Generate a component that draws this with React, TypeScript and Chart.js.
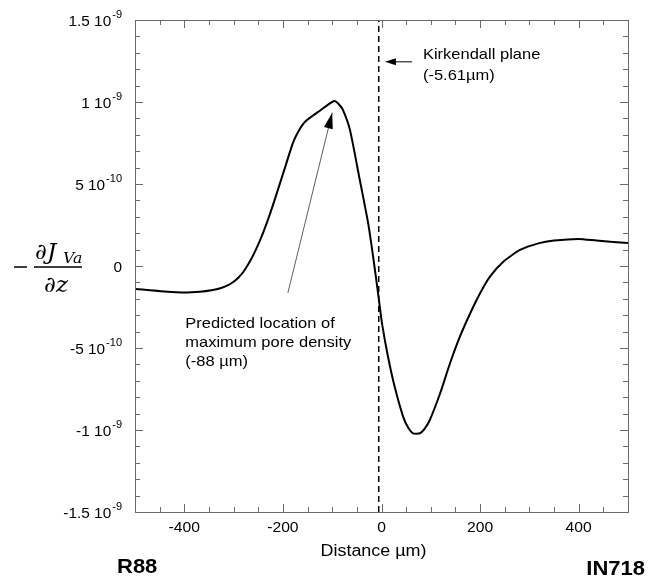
import React, { useEffect, useRef } from "react";
import { Chart, registerables } from "chart.js";

Chart.register(...registerables);

// Distance (µm)
const distance = [
  -500, -470, -440, -400, -368, -345, -327, -310, -300, -290, -280, -270, -260, -246, -233, -219, -206, -193, -180,
  -169, -155, -125, -96, -86, -78, -64, -45, -27, -17, -7, 1, 13, 27, 44, 54, 64, 78, 88, 98, 119, 139, 159, 180,
  200, 220, 247, 281, 318, 350, 400, 436, 470, 500,
];
// -dJ/dz in units of 1e-9
const gradient = [
  -0.14, -0.148, -0.156, -0.162, -0.157, -0.148, -0.136, -0.115, -0.096, -0.07, -0.035, 0.012, 0.067, 0.159, 0.26,
  0.382, 0.504, 0.626, 0.748, 0.819, 0.88, 0.947, 1.006, 0.985, 0.95, 0.83, 0.54, 0.26, 0.057, -0.165, -0.35, -0.55,
  -0.74, -0.92, -0.985, -1.02, -1.02, -0.99, -0.939, -0.776, -0.593, -0.431, -0.288, -0.166, -0.065, 0.026, 0.098,
  0.138, 0.155, 0.165, 0.155, 0.147, 0.14,
];
const kirkendallX = -5.61;
const yTickValues = [-1.5, -1, -0.5, 0, 0.5, 1, 1.5];
const yTickMain = ["-1.5 10", "-1 10", "-5 10", "0", "5 10", "1 10", "1.5 10"];
const yTickExp = ["-9", "-9", "-10", "", "-10", "-9", "-9"];
const xTickValues = [-400, -200, 0, 200, 400];
const xTitle = "Distance \u00b5m)";
const leftLabel = "R88";
const rightLabel = "IN718";
const kirkLines = ["Kirkendall plane", "(-5.61\u00b5m)"];
const poreLines = ["Predicted location of", "maximum pore density", "(-88 \u00b5m)"];

const SANS = "'Liberation Sans', Arial, sans-serif";

function txt(ctx: CanvasRenderingContext2D, s: string, x: number, y: number, font: string, align: CanvasTextAlign, sx = 1.1) {
  ctx.save();
  ctx.font = font;
  ctx.textAlign = align;
  ctx.translate(x, y);
  ctx.scale(sx, 1);
  ctx.fillText(s, 0, 0);
  ctx.restore();
}

function arrowHead(ctx: CanvasRenderingContext2D, x0: number, y0: number, x1: number, y1: number, len: number, w: number) {
  const ang = Math.atan2(y1 - y0, x1 - x0);
  ctx.beginPath();
  ctx.moveTo(x1, y1);
  ctx.lineTo(x1 - len * Math.cos(ang) + w * Math.sin(ang), y1 - len * Math.sin(ang) - w * Math.cos(ang));
  ctx.lineTo(x1 - len * Math.cos(ang) - w * Math.sin(ang), y1 - len * Math.sin(ang) + w * Math.cos(ang));
  ctx.closePath();
  ctx.fill();
}

const decor = {
  id: "decor",
  afterDraw(chart: any) {
    const { ctx, chartArea: a, scales } = chart;
    const x = scales.x;
    const y = scales.y;
    ctx.save();
    // frame
    ctx.strokeStyle = "#6a6a6a";
    ctx.lineWidth = 1;
    ctx.strokeRect(Math.round(a.left) + 0.5, Math.round(a.top) + 0.5, Math.round(a.right - a.left), Math.round(a.bottom - a.top));
    // x ticks (top & bottom, inward)
    ctx.beginPath();
    for (let v = -450; v <= 450; v += 50) {
      const px = Math.round(x.getPixelForValue(v)) + 0.5;
      const len = v % 200 === 0 ? 8 : 5;
      ctx.moveTo(px, a.bottom);
      ctx.lineTo(px, a.bottom - len);
      ctx.moveTo(px, a.top);
      ctx.lineTo(px, a.top + len);
    }
    // y ticks (left & right, inward)
    for (let i = -14; i <= 14; i++) {
      const py = Math.round(y.getPixelForValue(i / 10)) + 0.5;
      const len = i % 5 === 0 ? 8 : 5;
      ctx.moveTo(a.left, py);
      ctx.lineTo(a.left + len, py);
      ctx.moveTo(a.right, py);
      ctx.lineTo(a.right - len, py);
    }
    ctx.stroke();

    ctx.fillStyle = "#000";
    // y tick labels with superscripts
    ctx.textBaseline = "middle";
    yTickValues.forEach((v, i) => {
      const py = y.getPixelForValue(v);
      const right = a.left - 13;
      ctx.font = `10px ${SANS}`;
      const ew = ctx.measureText(yTickExp[i]).width * 1.1;
      txt(ctx, yTickExp[i], right, py - 5, `10px ${SANS}`, "right");
      txt(ctx, yTickMain[i], right - ew - (ew > 0 ? 1 : 0), py + 2, `14px ${SANS}`, "right");
    });
    // x tick labels
    xTickValues.forEach((v) => {
      txt(ctx, String(v), x.getPixelForValue(v), a.bottom + 16, `14px ${SANS}`, "center", 1.12);
    });
    txt(ctx, xTitle, x.getPixelForValue(0) - 8, a.bottom + 40, `16px ${SANS}`, "center", 1.12);
    txt(ctx, leftLabel, a.left - 18, a.bottom + 55, `bold 20px ${SANS}`, "left", 1.1);
    txt(ctx, rightLabel, a.right + 17, a.bottom + 57, `bold 20px ${SANS}`, "right", 1.1);

    // y-axis label: - dJ_Va / dz
    const cy = y.getPixelForValue(0);
    ctx.strokeStyle = "#000";
    ctx.lineWidth = 1.5;
    ctx.beginPath();
    ctx.moveTo(14, cy + 1);
    ctx.lineTo(27, cy + 1);
    ctx.moveTo(34, cy + 1);
    ctx.lineTo(82, cy + 1);
    ctx.stroke();
    ctx.textBaseline = "alphabetic";
    txt(ctx, "\u2202J", 35, cy - 7, `italic 22px 'DejaVu Serif', serif`, "left", 1.05);
    txt(ctx, "Va", 63, cy - 3, `italic 15px 'DejaVu Serif', serif`, "left", 1.05);
    txt(ctx, "\u2202z", 44, cy + 26, `italic 22px 'DejaVu Serif', serif`, "left", 1.05);

    // Kirkendall annotation
    const ky = y.getPixelForValue(1.245);
    const kx0 = x.getPixelForValue(62);
    const kx1 = x.getPixelForValue(7);
    ctx.lineWidth = 1;
    ctx.beginPath();
    ctx.moveTo(kx0, ky);
    ctx.lineTo(kx1 + 8, ky);
    ctx.stroke();
    arrowHead(ctx, kx0, ky, kx1, ky, 11, 3.5);
    ctx.textBaseline = "middle";
    const tx = x.getPixelForValue(84);
    txt(ctx, kirkLines[0], tx, y.getPixelForValue(1.29), `15px ${SANS}`, "left", 1.1);
    txt(ctx, kirkLines[1], tx, y.getPixelForValue(1.16), `15px ${SANS}`, "left", 1.1);

    // Pore density annotation
    const px0 = x.getPixelForValue(-190);
    const py0 = y.getPixelForValue(-0.165);
    const px1 = x.getPixelForValue(-100);
    const py1 = y.getPixelForValue(0.935);
    ctx.strokeStyle = "#333";
    ctx.lineWidth = 0.8;
    ctx.beginPath();
    ctx.moveTo(px0, py0);
    ctx.lineTo(px1, py1);
    ctx.stroke();
    arrowHead(ctx, px0, py0, px1, py1, 16, 4.5);
    const lx = x.getPixelForValue(-398);
    poreLines.forEach((t, i) => {
      txt(ctx, t, lx, y.getPixelForValue(-0.35) + i * 19, `15px ${SANS}`, "left", 1.1);
    });
    ctx.restore();
  },
};

export default function App() {
  const ref = useRef<HTMLCanvasElement | null>(null);
  useEffect(() => {
    if (!ref.current) return;
    const chart = new Chart(ref.current, {
      type: "line",
      data: {
        datasets: [
          {
            data: distance.map((d, i) => ({ x: d, y: gradient[i] })),
            borderColor: "#000",
            borderWidth: 2,
            pointRadius: 0,
            tension: 0.2,
            fill: false,
          },
          {
            data: [
              { x: kirkendallX, y: -1.5 },
              { x: kirkendallX, y: 1.5 },
            ],
            borderColor: "#000",
            borderWidth: 1.5,
            borderDash: [6, 4],
            pointRadius: 0,
            fill: false,
          },
        ],
      },
      options: {
        animation: false,
        responsive: false,
        devicePixelRatio: 1,
        layout: { padding: { left: 135, right: 24, top: 20, bottom: 71 } },
        plugins: { legend: { display: false }, tooltip: { enabled: false } },
        scales: {
          x: { type: "linear", min: -500, max: 500, display: false },
          y: { type: "linear", min: -1.5, max: 1.5, display: false },
        },
      },
      plugins: [decor],
    });
    return () => chart.destroy();
  }, []);
  return (
    <div style={{ position: "absolute", left: 0, top: 0, width: 652, height: 583, background: "#fff" }}>
      <canvas ref={ref} width={652} height={583} style={{ display: "block" }} />
    </div>
  );
}
